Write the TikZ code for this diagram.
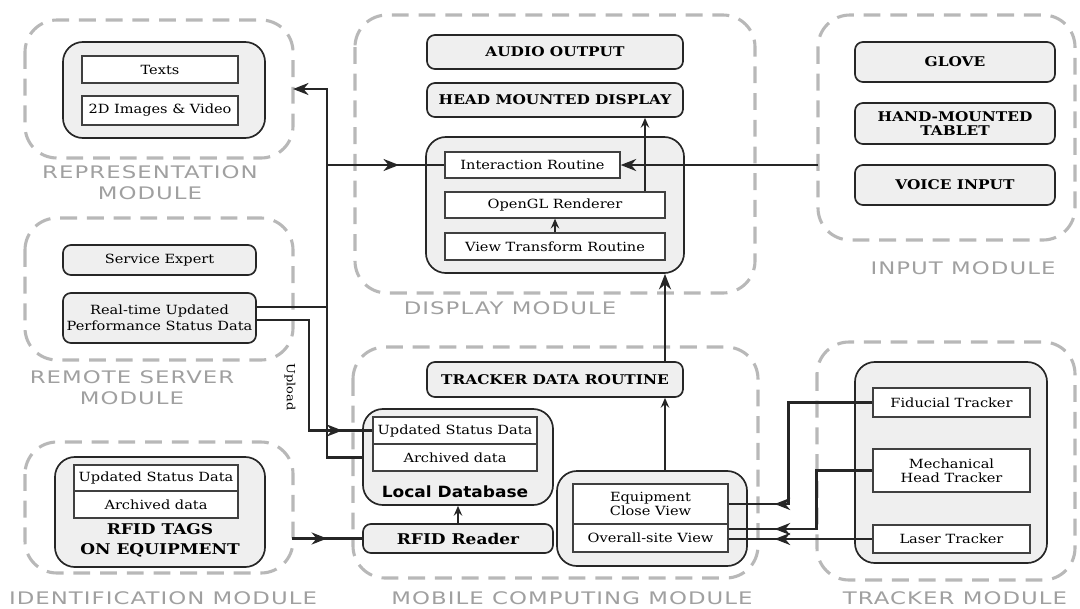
\documentclass[tikz,border=0pt]{standalone}
\usepackage{fontspec}
\setmainfont[FakeStretch=1.15]{DejaVu Serif}
\newfontfamily\modfont[FakeStretch=1.32,LetterSpace=6]{DejaVu Sans}
\newfontfamily\heavyfont[FakeStretch=1.1]{DejaVu Sans}
\usetikzlibrary{arrows.meta,calc,decorations.markings}

\definecolor{modgray}{HTML}{B8B8B8}
\definecolor{modtext}{HTML}{A0A0A0}
\definecolor{boxfill}{HTML}{EFEFEF}

\begin{document}
\begin{tikzpicture}[x=0.025cm,y=-0.025cm,
  module/.style={draw=modgray, line width=2.2pt, dash pattern=on 12pt off 7pt, rounded corners=0.8cm},
  modlabel/.style={text=modtext, font=\modfont\fontsize{12.3}{15}\selectfont, align=center, inner sep=0pt},
  group/.style={draw=black!85, line width=1.2pt, fill=boxfill, rounded corners=0.5cm, inner sep=0pt},
  unit/.style={draw=black!85, line width=1.2pt, fill=boxfill, rounded corners=0.2cm,
    font=\bfseries\fontsize{9.5}{10.5}\selectfont, align=center, inner sep=0pt},
  cell/.style={draw=black!75, line width=0.9pt, fill=white,
    font=\fontsize{9}{10}\selectfont, align=center, inner sep=0pt},
  conn/.style={line width=2pt, draw=black!85},
  thinconn/.style={line width=1.1pt, draw=black!85},
  bigtip/.style={-{Stealth[length=11pt,width=8.5pt,inset=3.5pt]}},
  smalltip/.style={-{Stealth[length=7pt,width=6pt,inset=2.5pt]}},
  midarrow/.style={postaction={decorate}, decoration={markings,
    mark=at position #1 with {\arrow{Stealth[length=11pt,width=8.5pt,inset=3.5pt]}}}},
]
\useasboundingbox (0,0) rectangle (1080,608);

% module frames
\draw[module] (25,20) rectangle (293,158);
\draw[module] (355,15) rectangle (755,293);
\draw[module] (818,15) rectangle (1075,240);
\draw[module] (25,218) rectangle (293,360);
\draw[module] (25,442) rectangle (293,573);
\draw[module] (353,347) rectangle (758,578);
\draw[module] (817,342) rectangle (1075,580);

% module captions
\node[modlabel] (replab) at (150,182.5) {REPRESENTATION\\MODULE};
\node[modlabel] (displab) at (510,308) {DISPLAY MODULE};
\node[modlabel] (inplab) at (963,268) {INPUT MODULE};
\node[modlabel] (remlab) at (132,388) {REMOTE SERVER\\MODULE};
\node[modlabel] (idlab) at (163,598) {IDENTIFICATION MODULE};
\node[modlabel] (moblab) at (572,598) {MOBILE COMPUTING MODULE};
\node[modlabel] (trklab) at (955,598) {TRACKER MODULE};

% representation
\node[group, minimum width=5.05cm, minimum height=2.4cm] (repgrp) at (164,90) {};
\node[cell, minimum width=3.9cm, minimum height=0.675cm] (texts) at (160,69.5) {Texts};
\node[cell, minimum width=3.9cm, minimum height=0.725cm] (media) at (160,110.5) {2D Images \& Video};

% display
\node[unit, minimum width=6.4cm, minimum height=0.85cm] (audio) at (555,52) {AUDIO OUTPUT};
\node[unit, minimum width=6.4cm, minimum height=0.85cm] (hmd) at (555,100) {HEAD MOUNTED DISPLAY};
\node[group, minimum width=6.45cm, minimum height=3.4cm] (dispgrp) at (555,205) {};
\node[cell, minimum width=4.375cm, minimum height=0.65cm] (inter) at (532.5,165) {Interaction Routine};
\node[cell, minimum width=5.5cm, minimum height=0.65cm] (ogl) at (555,205) {OpenGL Renderer};
\node[cell, minimum width=5.5cm, minimum height=0.675cm] (vtr) at (555,246.5) {View Transform Routine};

% input
\node[unit, minimum width=5cm, minimum height=1cm] (glove) at (955,62) {GLOVE};
\node[unit, minimum width=5cm, minimum height=1.025cm] (tablet) at (955,123.5) {HAND-MOUNTED\\TABLET};
\node[unit, minimum width=5cm, minimum height=1cm] (voice) at (955,185) {VOICE INPUT};

% remote server
\node[unit, font=\fontsize{9}{10}\selectfont, minimum width=4.825cm, minimum height=0.75cm] (expert) at (159.5,260) {Service Expert};
\node[unit, font=\fontsize{9}{11}\selectfont, minimum width=4.825cm, minimum height=1.25cm] (rtdata) at (159.5,318) {Real-time Updated\\Performance Status Data};

% identification
\node[group, minimum width=5.25cm, minimum height=2.75cm] (tags) at (160,512) {};
\node[cell, minimum width=4.1cm, minimum height=0.65cm] (tagupd) at (156,478) {Updated Status Data};
\node[cell, minimum width=4.1cm, minimum height=0.675cm] (tagarc) at (156,504.5) {Archived data};
\node[font=\bfseries\fontsize{10.5}{14}\selectfont, align=center, inner sep=0pt] (tagname) at (160,540) {RFID TAGS\\ON EQUIPMENT};

% mobile computing
\node[unit, minimum width=6.4cm, minimum height=0.875cm] (tdr) at (555,379.5) {TRACKER DATA ROUTINE};
\node[group, minimum width=4.75cm, minimum height=2.4cm] (ldb) at (458,457) {};
\node[cell, minimum width=4.1cm, minimum height=0.675cm] (ldbupd) at (455,430.5) {Updated Status Data};
\node[cell, minimum width=4.1cm, minimum height=0.675cm] (ldbarc) at (455,457.5) {Archived data};
\node[font=\heavyfont\bfseries\fontsize{11}{12}\selectfont, inner sep=0pt] (ldbname) at (455,492) {Local Database};
\node[unit, font=\bfseries\fontsize{10.5}{12}\selectfont, minimum width=4.75cm, minimum height=0.725cm] (rfid) at (458,538.5) {RFID Reader};
\node[group, minimum width=4.75cm, minimum height=2.375cm] (views) at (652,518.5) {};
\node[cell, minimum width=3.875cm, minimum height=1cm] (closev) at (650.5,504) {Equipment\\Close View};
\node[cell, minimum width=3.875cm, minimum height=0.7cm] (sitev) at (650.5,538) {Overall-site View};

% tracker
\node[group, minimum width=4.8cm, minimum height=5.025cm] (trkgrp) at (951,462.5) {};
\node[cell, minimum width=3.925cm, minimum height=0.725cm] (fid) at (951.5,402.5) {Fiducial Tracker};
\node[cell, minimum width=3.925cm, minimum height=1.075cm] (mech) at (951.5,470.5) {Mechanical\\Head Tracker};
\node[cell, minimum width=3.925cm, minimum height=0.7cm] (laser) at (951.5,539) {Laser Tracker};

% routing points
\coordinate (busx) at (327,0);
\coordinate (repin) at (293,89);
\coordinate (upx) at (309,0);
\coordinate (inpin) at (818,165);
\coordinate (idout) at (292,538.5);
\coordinate (trkx) at (665,0);
\coordinate (oglx) at (645,0);

% data bus on the left
\draw[conn, bigtip] (ldb.west |- ldbarc) -| (repin -| busx) -- (repin);
\draw[conn, midarrow=1.8cm] (busx |- inter) -- (inter.west);
\draw[conn] ($(rtdata.east)+(0,-11)$) -- ($(rtdata.east -| busx)+(0,-11)$);
\draw[conn, midarrow=-0.75cm] ($(rtdata.east)+(0,2)$) -| (upx |- ldbupd) -- (ldbupd.west);
\node[font=\fontsize{8}{9}\selectfont, rotate=-90, inner sep=0pt] (uplab) at (290,387) {Upload};

% input and display
\draw[conn, bigtip] (inpin) -- (inter.east);
\draw[thinconn, smalltip] (ogl.north -| oglx) -- (hmd.south -| oglx);
\draw[thinconn, smalltip] (vtr.north) -- (ogl.south);
\draw[conn, bigtip] (tdr.north -| trkx) -- (dispgrp.south -| trkx);
\draw[thinconn, smalltip] (views.north -| trkx) -- (tdr.south -| trkx);

% identification and database
\draw[thinconn, smalltip] (rfid.north) -- (ldb.south);
\draw[conn, midarrow=-0.875cm] (idout) -- (rfid.west);

% tracker feeds
\draw[conn, midarrow=-1.15cm] (fid.west) -- ++(-84,0) |- (closev.east);
\draw[conn, midarrow=-1.15cm] (mech.west) -- ++(-56,0) |- ($(sitev.east)+(0,-9)$);
\draw[conn, midarrow=-1.15cm] (laser.west) -- (laser.west -| sitev.east);
\end{tikzpicture}
\end{document}
